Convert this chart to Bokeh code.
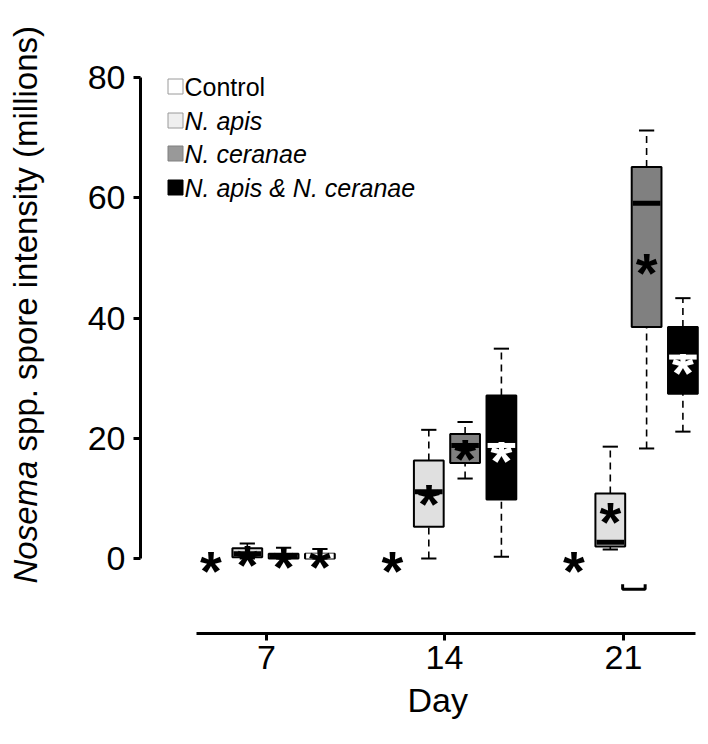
import math
from bokeh.plotting import figure
from bokeh.layouts import row, column
from bokeh.models import Range1d, FixedTicker, Label, Title
from bokeh.embed import file_html
from bokeh.resources import INLINE
from bokeh.core.properties import value

# ---------------- data ----------------
day_labels = ["7", "14", "21"]
days = [7, 14, 21]
groups = ["Control", "N. apis", "N. ceranae", "N. apis & N. ceranae"]

# box-plot statistics of the infected groups (day-major order)
box_day = [7, 7, 7, 14, 14, 14, 21, 21, 21]
box_group = ["N. apis", "N. ceranae", "N. apis & N. ceranae"] * 3
whisker_low = [0.0, 0.0, 0.0, 0.0, 13.3, 0.3, 1.5, 18.3, 21.1]
quart1 = [0.2, 0.0, 0.0, 5.3, 15.9, 9.8, 2.0, 38.5, 27.4]
medians = [0.8, 0.4, 0.4, 11.1, 18.8, 18.8, 2.7, 59.1, 33.5]
quart3 = [1.7, 0.8, 0.8, 16.3, 20.7, 27.1, 10.8, 65.1, 38.5]
whisker_high = [2.5, 1.8, 1.6, 21.4, 22.7, 34.9, 18.6, 71.2, 43.3]

# means shown as asterisks (all four groups, day-major order)
mean_day = [7] * 4 + [14] * 4 + [21] * 4
mean_group = groups * 3
means = [0.0, 1.0, 0.6, 0.6, 0.0, 11.1, 18.6, 18.3, 0.0, 8.1, 49.6, 33.0]

# small bracket drawn below the day-21 boxes
bracket_day = 21
bracket_value = -5.1

y_ticks = [0, 20, 40, 60, 80]
y_title_italic = "Nosema"
y_title_rest = "spp. spore intensity (millions)"
x_title = "Day"

# ---------------- styles ----------------
FONT = "Liberation Sans"
box_fill = {"N. apis": "#e0e0e0", "N. ceranae": "#808080", "N. apis & N. ceranae": "#000000"}
median_col = {"N. apis": "#000000", "N. ceranae": "#000000", "N. apis & N. ceranae": "#ffffff"}
star_colors = ["#000000"] * 4 + ["#000000"] * 3 + ["#ffffff"] + ["#000000"] * 3 + ["#ffffff"]
legend_fill = ["#ffffff", "#efefef", "#999999", "#000000"]
legend_line = ["#9a9a9a", "#9a9a9a", "#808080", "#000000"]
legend_italic = ["normal", "italic", "italic", "italic"]

# slot positions (R style boxplot positions)
day_start = {7: 0, 14: 5, 21: 10}
def slot(d, g):
    return day_start[d] + groups.index(g) + 1

# pixel helpers (layout only)
def ux(px):
    return 1 + (px - 210.5) / 36.3
def vy(py):
    return (558 - py) / 6.0125

TOTAL_H = 736
LEFT_W = 52

p = figure(width=700 - LEFT_W, height=TOTAL_H,
           x_range=Range1d(ux(140), ux(700)), y_range=Range1d(vy(633), vy(40)),
           output_backend="svg", toolbar_location=None,
           min_border_left=140 - LEFT_W, min_border_right=0, min_border_top=40,
           min_border_bottom=TOTAL_H - 633)
p.xgrid.visible = False
p.ygrid.visible = False
p.outline_line_color = None
p.background_fill_color = "white"
p.border_fill_color = "white"

# axes
for ax in (p.xaxis[0], p.yaxis[0]):
    ax.axis_line_width = 3
    ax.axis_line_color = "black"
    ax.major_tick_line_width = 3
    ax.major_tick_line_color = "black"
    ax.major_tick_in = 0
    ax.major_tick_out = 7
    ax.minor_tick_line_color = None
    ax.major_label_text_font = FONT
    ax.major_label_text_font_size = "34px"
    ax.major_label_text_color = "black"

tick_pos = [ux(266), ux(444), ux(623)]
p.xaxis[0].ticker = FixedTicker(ticks=tick_pos)
p.xaxis[0].major_label_overrides = {t: l for t, l in zip(tick_pos, day_labels)}
p.xaxis[0].bounds = (ux(196), ux(695))
p.xaxis[0].major_label_standoff = 5
p.yaxis[0].ticker = FixedTicker(ticks=y_ticks)
p.yaxis[0].bounds = (0, 80)
p.yaxis[0].major_label_standoff = 8

# x-axis title below the axis
p.add_layout(Title(text=x_title, align="left", offset=267, standoff=14,
                   text_font=FONT, text_font_size="34px", text_font_style="normal",
                   text_color="black"), "below")

# boxes
bx = [slot(d, g) for d, g in zip(box_day, box_group)]
half = 0.41
cap = 0.21
p.segment(x0=bx, y0=quart3, x1=bx, y1=whisker_high, line_color="black",
          line_width=1.6, line_dash="7 5")
p.segment(x0=bx, y0=whisker_low, x1=bx, y1=quart1, line_color="black",
          line_width=1.6, line_dash="7 5")
p.segment(x0=[x - cap for x in bx], y0=whisker_high, x1=[x + cap for x in bx],
          y1=whisker_high, line_color="black", line_width=2)
p.segment(x0=[x - cap for x in bx], y0=whisker_low, x1=[x + cap for x in bx],
          y1=whisker_low, line_color="black", line_width=2)
p.quad(left=[x - half for x in bx], right=[x + half for x in bx], bottom=quart1, top=quart3,
       fill_color=[box_fill[g] for g in box_group], line_color="black", line_width=2)
p.segment(x0=[x - half + 0.03 for x in bx], y0=medians, x1=[x + half - 0.03 for x in bx],
          y1=medians, line_color=[median_col[g] for g in box_group], line_width=5)

# mean asterisks
mx = [slot(d, g) for d, g in zip(mean_day, mean_group)]
p.text(x=mx, y=means, text=["*"] * len(means), text_align="center",
       text_baseline="alphabetic", text_font=value(FONT), text_font_size="56px",
       text_font_style="bold", text_color=star_colors, y_offset=12)

# bracket
bc = slot(bracket_day, "Control") + 1.65
p.line(x=[bc - 0.31, bc - 0.31, bc + 0.31, bc + 0.31],
       y=[bracket_value + 0.8, bracket_value, bracket_value, bracket_value + 0.8],
       line_color="black", line_width=3)

# legend
rows = [86, 120, 153, 187]
p.scatter(x=[ux(175)] * 4, y=[vy(r) for r in rows], marker="square", size=15,
          fill_color=legend_fill, line_color=legend_line, line_width=1)
for r, g, st in zip(rows, groups, legend_italic):
    p.add_layout(Label(x=ux(184), y=vy(r), text=g, text_font=FONT, text_font_size="25px",
                       text_font_style=st, text_baseline="middle", text_align="left",
                       text_color="black"))

# y title strip (pixel coordinates)
yfig = figure(width=LEFT_W, height=TOTAL_H, x_range=Range1d(0, LEFT_W),
              y_range=Range1d(TOTAL_H, 0), output_backend="svg", toolbar_location=None,
              x_axis_type=None, y_axis_type=None,
              min_border_left=0, min_border_right=0, min_border_top=0, min_border_bottom=0)
yfig.xgrid.visible = False
yfig.ygrid.visible = False
yfig.outline_line_color = None
yfig.border_fill_color = "white"
yfig.background_fill_color = "white"

GAP_W = (3.723 + 0.278) * 33
yfig.text(x=[25], y=[583], text=[y_title_italic], angle=math.pi / 2, text_align="left",
          text_baseline="middle", text_font=value(FONT), text_font_style="italic",
          text_font_size="33px", text_color="black")
yfig.text(x=[25], y=[583 - GAP_W], text=[y_title_rest], angle=math.pi / 2,
          text_align="left", text_baseline="middle", text_font=value(FONT),
          text_font_size="33px", text_color="black")

layout = row(yfig, column(p, spacing=0), spacing=0)
open("out.html", "w").write(file_html(layout, INLINE))
